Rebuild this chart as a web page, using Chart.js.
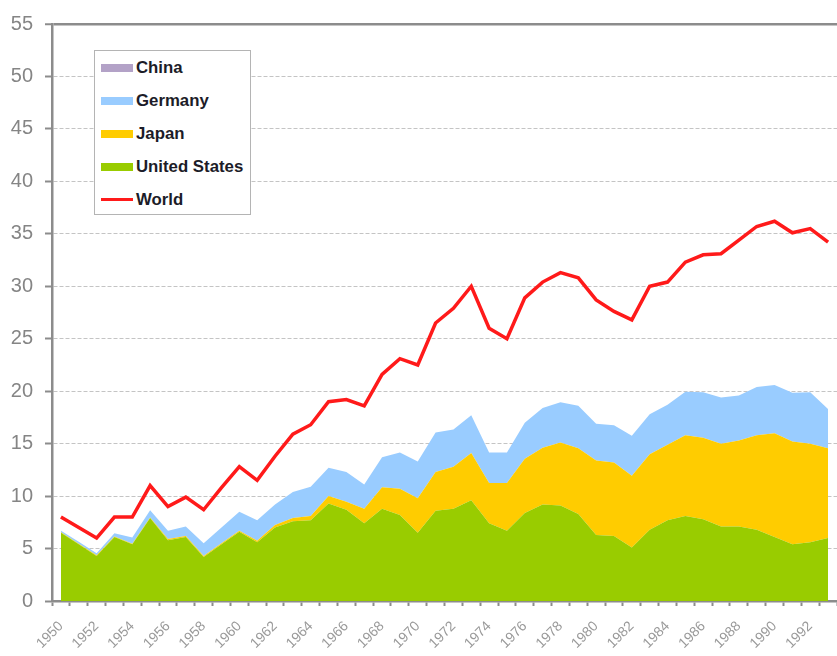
<!DOCTYPE html>
<html>
<head>
<meta charset="utf-8">
<script src="https://cdn.jsdelivr.net/npm/chart.js@4"></script>
<style>
  body { margin: 0; background: #fff; overflow: hidden; }
  .wrap { position: relative; width: 837px; height: 656px; }
  .legend {
    position: absolute; left: 94px; top: 50px; width: 155px; height: 163px;
    border: 1px solid #b4b4b4; background: #fff;
    font-family: "Liberation Sans", Arial, sans-serif; font-weight: bold; font-size: 16.8px; color: #1c1c28;
  }
  .legend div { position: absolute; left: 6px; height: 20px; line-height: 20px; white-space: nowrap; }
  .legend span { display: inline-block; width: 32px; height: 8px; margin-right: 3px; vertical-align: 1px; }
  .legend span.line { height: 3px; vertical-align: 4px; }
</style>
</head>
<body>
<div class="wrap">
  <canvas id="myChart"></canvas>
  <div class="legend" id="legend"></div>
</div>
<script>
// years on the x axis
var years = [1950, 1951, 1952, 1953, 1954, 1955, 1956, 1957, 1958, 1959,
  1960, 1961, 1962, 1963, 1964, 1965, 1966, 1967, 1968, 1969,
  1970, 1971, 1972, 1973, 1974, 1975, 1976, 1977, 1978, 1979,
  1980, 1981, 1982, 1983, 1984, 1985, 1986, 1987, 1988, 1989,
  1990, 1991, 1992, 1993];

// stacked areas (bottom to top)
var unitedStates = [6.5, 5.4, 4.3, 6.1, 5.4, 7.9, 5.8, 6.1, 4.2, 5.4,
  6.6, 5.6, 7.0, 7.6, 7.7, 9.3, 8.7, 7.4, 8.8, 8.2,
  6.5, 8.6, 8.8, 9.6, 7.4, 6.7, 8.4, 9.2, 9.1, 8.3,
  6.3, 6.2, 5.1, 6.8, 7.7, 8.1, 7.8, 7.1, 7.1, 6.8,
  6.1, 5.4, 5.6, 6.0];
var japan = [0.05, 0.05, 0.05, 0.05, 0.05, 0.05, 0.1, 0.1, 0.1, 0.1,
  0.1, 0.15, 0.25, 0.3, 0.4, 0.7, 0.75, 1.4, 2.05, 2.5,
  3.3, 3.7, 4.0, 4.5, 3.85, 4.55, 5.15, 5.4, 6.0, 6.25,
  7.1, 7.0, 6.85, 7.2, 7.2, 7.7, 7.75, 7.9, 8.2, 9.0,
  9.9, 9.8, 9.4, 8.55];
var germany = [0.15, 0.2, 0.2, 0.3, 0.6, 0.7, 0.8, 0.9, 1.2, 1.5,
  1.8, 1.95, 1.95, 2.5, 2.8, 2.7, 2.85, 2.3, 2.85, 3.45,
  3.5, 3.75, 3.55, 3.6, 2.9, 2.9, 3.45, 3.8, 3.85, 4.05,
  3.5, 3.55, 3.8, 3.8, 3.8, 4.15, 4.35, 4.4, 4.3, 4.6,
  4.6, 4.65, 4.9, 3.75];
var china = [0, 0, 0, 0, 0, 0, 0, 0, 0, 0,
  0, 0, 0, 0, 0, 0, 0, 0, 0, 0,
  0, 0, 0, 0, 0, 0, 0, 0, 0, 0,
  0, 0, 0, 0, 0, 0, 0, 0, 0, 0,
  0, 0, 0, 0];

// world line
var world = [8.0, 7.0, 6.0, 8.0, 8.0, 11.0, 9.0, 9.9, 8.7, 10.8,
  12.8, 11.5, 13.8, 15.9, 16.8, 19.0, 19.2, 18.6, 21.6, 23.1,
  22.5, 26.5, 27.9, 30.0, 26.0, 25.0, 28.9, 30.4, 31.3, 30.8,
  28.7, 27.6, 26.8, 30.0, 30.4, 32.3, 33.0, 33.1, 34.4, 35.7,
  36.2, 35.1, 35.5, 34.2];

var yTicks = [0, 5, 10, 15, 20, 25, 30, 35, 40, 45, 50, 55];

var legendItems = [
  { label: "China", color: "#b3a2c7" },
  { label: "Germany", color: "#99ccff" },
  { label: "Japan", color: "#ffcc00" },
  { label: "United States", color: "#99cc00" },
  { label: "World", color: "#ff1a1a", line: true }
];

function area(label, data, color, fill) {
  return {
    label: label, data: data, stack: "countries", fill: fill,
    backgroundColor: color, borderWidth: 0, pointRadius: 0, tension: 0, order: 1
  };
}

var ctx = document.getElementById("myChart").getContext("2d");
var myChart = new Chart(ctx, {
  type: "line",
  data: {
    labels: years,
    datasets: [
      area("United States", unitedStates, "#99cc00", "origin"),
      area("Japan", japan, "#ffcc00", "-1"),
      area("Germany", germany, "#99ccff", "-1"),
      area("China", china, "#b3a2c7", "-1"),
      {
        label: "World", data: world, stack: "world", fill: false,
        borderColor: "#ff1a1a", borderWidth: 3.5, pointRadius: 0, tension: 0, order: 0
      }
    ]
  },
  options: {
    responsive: true,
    maintainAspectRatio: false,
    animation: false,
    layout: { padding: { top: 18, right: 0, left: 0, bottom: 0 } },
    plugins: { legend: { display: false }, tooltip: { enabled: false } },
    scales: {
      x: {
        type: "category",
        offset: true,
        grid: { offset: true, drawOnChartArea: false, tickLength: 5, tickWidth: 2, tickColor: "#8c8c8c" },
        border: { color: "#8c8c8c", width: 2.5 },
        ticks: {
          autoSkip: false, minRotation: 45, maxRotation: 45, padding: 12,
          color: "#999999", font: { family: "Liberation Sans", size: 14 },
          callback: function (v, i) { return years[i] % 2 === 0 ? String(years[i]) : ""; }
        },
        afterFit: function (scale) {
          scale.height = 55;
          scale.paddingLeft = 0;
          scale.paddingRight = 0;
        }
      },
      y: {
        stacked: true,
        min: 0, max: 55,
        afterBuildTicks: function (scale) { scale.ticks = yTicks.map(function (v) { return { value: v }; }); },
        grid: {
          color: function (c) { return c.tick && c.tick.value === 55 ? "#8c8c8c" : "#c4c4c4"; },
          lineWidth: function (c) { return c.tick && c.tick.value === 55 ? 2.5 : 1; },
          tickLength: 7, tickWidth: 2, tickColor: "#8c8c8c"
        },
        border: {
          color: "#8c8c8c", width: 2.5,
          dash: function (c) { return c.tick && c.tick.value === 55 ? [] : [4, 2]; }
        },
        ticks: { padding: 12, color: "#858585", font: { family: "Liberation Sans", size: 20 } },
        afterFit: function (scale) { scale.width = 52; }
      }
    }
  }
});

// legend box drawn over the plot
var legend = document.getElementById("legend");
legendItems.forEach(function (it, i) {
  var row = document.createElement("div");
  row.style.top = (7 + i * 33) + "px";
  row.innerHTML = '<span class="' + (it.line ? "line" : "") + '" style="background:' + it.color + '"></span>' + it.label;
  legend.appendChild(row);
});
</script>
</body>
</html>
